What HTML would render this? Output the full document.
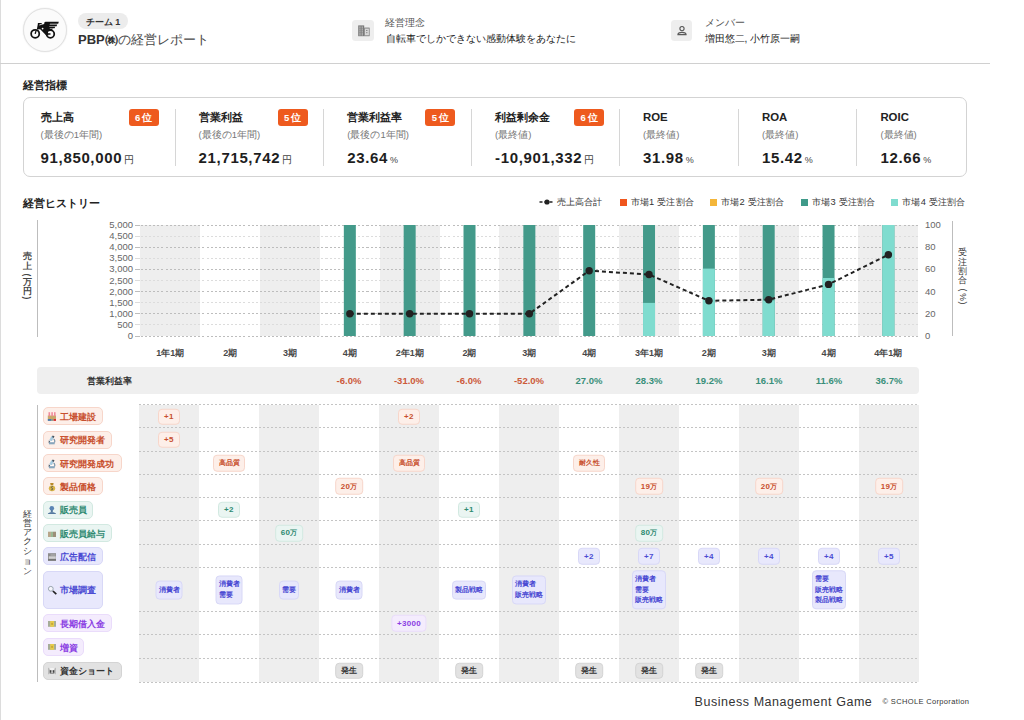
<!DOCTYPE html><html lang="ja"><head><meta charset="utf-8"><title>経営レポート</title><style>
*{margin:0;padding:0;box-sizing:border-box}
html,body{width:1024px;height:720px;overflow:hidden;background:#fff}
body{position:relative;font-family:"Liberation Sans",sans-serif;color:#222}
.ab{position:absolute}
.t{position:absolute;white-space:nowrap;line-height:1}
.vc{transform:translateY(-50%)}
.cx{transform:translate(-50%,-50%)}
.b{font-weight:bold}
.badge{position:absolute;top:109px;width:30px;height:17px;background:#ee5a1e;border-radius:3px;color:#fff;font-weight:bold;font-size:9.5px;line-height:17px;text-align:center}
.div{position:absolute;top:109px;width:1px;height:57px;background:#d6d6d6}
.kt{font-size:11.4px;font-weight:bold;color:#222}
.ks{font-size:9.5px;color:#777}
.kv{font-size:15px;font-weight:bold;color:#1e1e1e;letter-spacing:0.65px}
.ku{font-size:10px;color:#444;font-weight:normal;letter-spacing:0}
.ylab{position:absolute;font-size:9.5px;color:#666;line-height:1;white-space:nowrap}
.xl{position:absolute;font-size:9px;font-weight:bold;color:#484848;line-height:1;white-space:nowrap;transform:translate(-50%,-50%)}
.pr{position:absolute;font-size:9.5px;font-weight:bold;line-height:1;white-space:nowrap;transform:translate(-50%,-50%)}
.hl{position:absolute;height:1px}
.lab{position:absolute;left:43px;height:18px;border-radius:5px;border:1px solid;font-size:9.4px;font-weight:bold;line-height:16px;padding-left:16.3px;padding-top:0.7px;white-space:nowrap}
.ico{position:absolute;left:5px;top:4px;width:8px;height:8px}
.chip{position:absolute;border:1px solid;border-radius:4px;font-size:7.2px;font-weight:bold;line-height:12.5px;text-align:center;white-space:nowrap;transform:translate(-50%,-50%);padding:1.2px 4.5px 0.8px;min-width:22px}
.chip .d{font-size:8px;letter-spacing:0.35px}
.chip.m{font-size:7px;line-height:10.3px;text-align:left;padding:3.5px 2px 3px;min-width:0}
.or{background:#fdefe9;border-color:#f7d6ca;color:#c8502e}
.gr{background:#eaf5f2;border-color:#d2e9e1;color:#2e8a70}
.bl{background:#e8e8fc;border-color:#d8d8f7;color:#4b4bd3}
.pu{background:#f4ecfd;border-color:#eadcfb;color:#8a3de3}
.gy{background:#e2e2e2;border-color:#d4d4d4;color:#333}
</style></head><body>
<div class="ab" style="left:0;top:0;width:1px;height:720px;background:#dcdcdc"></div>
<div class="ab" style="left:23px;top:8px;width:44px;height:44px;border-radius:50%;background:#fbfbfb;border:1px solid #e2e2e2;box-shadow:0 0 1.5px rgba(0,0,0,0.12)"></div>
<svg class="ab" style="left:25px;top:12px" width="40" height="36" viewBox="0 0 40 36">
<circle cx="10.2" cy="21.8" r="4.05" fill="none" stroke="#111" stroke-width="1.75"/>
<circle cx="25.4" cy="22" r="3.85" fill="none" stroke="#111" stroke-width="1.75"/>
<path d="M10.2 21.8 L11 18.9" stroke="#111" stroke-width="1.3"/>
<path d="M22.8 22 H25.5" stroke="#111" stroke-width="1.5"/>
<path d="M12.9 10.9 H16.7 V12.3 H14.6 L14.3 13.6 L19.2 12.1 C19.2 10.6 19.6 9.8 20.6 9.8 H33.8 L33.2 11.75 H25 L24.6 12.6 H32.2 L31.6 14.25 H24.4 L24.2 14.8 H30.2 L29.6 16.3 H24.6 L25 16.75 H28 L26.4 18.3 H23 C22.8 19.5 23.2 21 23.4 23.6 L21 23.2 L15.2 17.3 L11.8 17.6 L12.8 12.3 Z" fill="#111"/>
<circle cx="17.6" cy="16.6" r="0.9" fill="#fbfbfb"/>
</svg>
<div class="ab" style="left:77.6px;top:13.3px;width:50.6px;height:15.3px;border-radius:8px;background:#ececec"></div>
<div class="t b cx" style="left:103px;top:21.5px;font-size:9px;color:#333">チーム 1</div>
<div class="t vc" style="left:78px;top:39px;font-size:13px;color:#4a4a4a"><span class="b" style="color:#333">PBP㈱</span>の経営レポート</div>
<div class="ab" style="left:352.3px;top:19.8px;width:21.6px;height:21.5px;border-radius:3.5px;background:#eeeeee"></div>
<svg class="ab" style="left:357.5px;top:24.5px" width="12" height="12" viewBox="0 0 12 12"><rect x="0.2" y="0.4" width="6" height="10.8" fill="#7a7a7a"/><rect x="6.2" y="2.6" width="5.4" height="8.6" fill="#7a7a7a"/><rect x="6.9" y="3.5" width="4" height="6.9" fill="#d8d8d8"/><g fill="#d6d6d6"><rect x="1.3" y="1.6" width="1.3" height="1"/><rect x="3.6" y="1.6" width="1.3" height="1"/><rect x="1.3" y="3.6" width="1.3" height="1"/><rect x="3.6" y="3.6" width="1.3" height="1"/><rect x="1.3" y="5.6" width="1.3" height="1"/><rect x="3.6" y="5.6" width="1.3" height="1"/><rect x="1.3" y="7.6" width="1.3" height="1"/><rect x="3.6" y="7.6" width="1.3" height="1"/><rect x="1.3" y="9.4" width="1.3" height="1"/><rect x="3.6" y="9.4" width="1.3" height="1"/></g><g fill="#7a7a7a"><rect x="8.2" y="5" width="1.2" height="1"/><rect x="8.2" y="7.2" width="1.2" height="1"/></g></svg>
<div class="t vc" style="left:385px;top:22.6px;font-size:9.5px;color:#555">経営理念</div>
<div class="t vc" style="left:385.5px;top:38.8px;font-size:10px;color:#1a1a1a">自転車でしかできない感動体験をあなたに</div>
<div class="ab" style="left:670.7px;top:19.8px;width:21.6px;height:21.5px;border-radius:3.5px;background:#eeeeee"></div>
<svg class="ab" style="left:675.5px;top:24.5px" width="12" height="12" viewBox="0 0 12 12"><circle cx="6" cy="3.6" r="2.1" fill="none" stroke="#555" stroke-width="1.1"/><path d="M1.9 9.7 C1.9 6.5 10.1 6.5 10.1 9.7 Z" fill="none" stroke="#5a5a5a" stroke-width="1.2" stroke-linejoin="round"/></svg>
<div class="t vc" style="left:704.5px;top:22.6px;font-size:9.5px;color:#555">メンバー</div>
<div class="t vc" style="left:704.5px;top:38.8px;font-size:10px;color:#1a1a1a">増田悠二, 小竹原一嗣</div>
<div class="ab" style="left:0;top:63px;width:990px;height:1.3px;background:#d0d0d0"></div>
<div class="t b vc" style="left:23px;top:84.8px;font-size:11px;color:#222">経営指標</div>
<div class="ab" style="left:22.7px;top:97.1px;width:944.7px;height:80.2px;border:1.4px solid #d3d3d3;border-radius:7px"></div>
<div class="t vc kt" style="left:40.6px;top:118px">売上高</div>
<div class="t vc ks" style="left:40.6px;top:135.2px">(最後の1年間)</div>
<div class="t vc kv" style="left:40.6px;top:157px">91,850,000<span class="ku" style="margin-left:2px;">円</span></div>
<div class="badge" style="left:128.5px">6&thinsp;位</div>
<div class="t vc kt" style="left:198.6px;top:118px">営業利益</div>
<div class="t vc ks" style="left:198.6px;top:135.2px">(最後の1年間)</div>
<div class="t vc kv" style="left:198.6px;top:157px">21,715,742<span class="ku" style="margin-left:2px;">円</span></div>
<div class="badge" style="left:277.5px">5&thinsp;位</div>
<div class="t vc kt" style="left:347.3px;top:118px">営業利益率</div>
<div class="t vc ks" style="left:347.3px;top:135.2px">(最後の1年間)</div>
<div class="t vc kv" style="left:347.3px;top:157px">23.64<span class="ku" style="margin-left:2px;font-size:9px">%</span></div>
<div class="badge" style="left:425.3px">5&thinsp;位</div>
<div class="t vc kt" style="left:495px;top:118px">利益剰余金</div>
<div class="t vc ks" style="left:495px;top:135.2px">(最終値)</div>
<div class="t vc kv" style="left:495px;top:157px">-10,901,332<span class="ku" style="margin-left:2px;">円</span></div>
<div class="badge" style="left:574px">6&thinsp;位</div>
<div class="t vc kt" style="left:643px;top:118px">ROE</div>
<div class="t vc ks" style="left:643px;top:135.2px">(最終値)</div>
<div class="t vc kv" style="left:643px;top:157px">31.98<span class="ku" style="margin-left:2px;font-size:9px">%</span></div>
<div class="t vc kt" style="left:762px;top:118px">ROA</div>
<div class="t vc ks" style="left:762px;top:135.2px">(最終値)</div>
<div class="t vc kv" style="left:762px;top:157px">15.42<span class="ku" style="margin-left:2px;font-size:9px">%</span></div>
<div class="t vc kt" style="left:880.4px;top:118px">ROIC</div>
<div class="t vc ks" style="left:880.4px;top:135.2px">(最終値)</div>
<div class="t vc kv" style="left:880.4px;top:157px">12.66<span class="ku" style="margin-left:2px;font-size:9px">%</span></div>
<div class="div" style="left:175px"></div>
<div class="div" style="left:322.8px"></div>
<div class="div" style="left:470.8px"></div>
<div class="div" style="left:618.8px"></div>
<div class="div" style="left:737.5px"></div>
<div class="div" style="left:855.9px"></div>
<div class="t b vc" style="left:23px;top:202.5px;font-size:11px;color:#222">経営ヒストリー</div>
<svg class="ab" style="left:539px;top:198px" width="16" height="8" viewBox="0 0 16 8"><path d="M0.5 4 H15.5" stroke="#222" stroke-width="1.6" stroke-dasharray="3 2"/><circle cx="8" cy="4" r="2.6" fill="#222"/></svg>
<div class="t vc" style="left:557.3px;top:202.5px;font-size:9.3px;color:#333">売上高合計</div>
<div class="ab" style="left:620.3px;top:198.5px;width:7px;height:7px;background:#f0561d"></div>
<div class="t vc" style="left:630.6px;top:202.5px;font-size:9.3px;color:#333;letter-spacing:0.2px">市場1 受注割合</div>
<div class="ab" style="left:710px;top:198.5px;width:7px;height:7px;background:#f4b63a"></div>
<div class="t vc" style="left:721px;top:202.5px;font-size:9.3px;color:#333;letter-spacing:0.2px">市場2 受注割合</div>
<div class="ab" style="left:800.5px;top:198.5px;width:7px;height:7px;background:#3f9a89"></div>
<div class="t vc" style="left:812px;top:202.5px;font-size:9.3px;color:#333;letter-spacing:0.2px">市場3 受注割合</div>
<div class="ab" style="left:891.3px;top:198.5px;width:7px;height:7px;background:#7fdccf"></div>
<div class="t vc" style="left:902.3px;top:202.5px;font-size:9.3px;color:#333;letter-spacing:0.2px">市場4 受注割合</div>
<div class="ab" style="left:37px;top:220px;width:1px;height:116.5px;background:#bdbdbd"></div>
<div class="t" style="left:21.2px;width:12px;text-align:center;top:252.05px;line-height:8.5px;font-size:8.5px;color:#444;font-weight:bold">売</div>
<div class="t" style="left:21.2px;width:12px;text-align:center;top:261.55px;line-height:8.5px;font-size:8.5px;color:#444;font-weight:bold">上</div>
<div class="t" style="left:27.2px;top:274.9px;font-size:8.5px;color:#444;font-weight:bold;transform:translate(-50%,-50%) rotate(90deg)">(</div>
<div class="t" style="left:21.2px;width:12px;text-align:center;top:278.45px;line-height:8.5px;font-size:8.5px;color:#444;font-weight:bold">万</div>
<div class="t" style="left:21.2px;width:12px;text-align:center;top:287.45px;line-height:8.5px;font-size:8.5px;color:#444;font-weight:bold">円</div>
<div class="t" style="left:27.2px;top:298.3px;font-size:8.5px;color:#444;font-weight:bold;transform:translate(-50%,-50%) rotate(90deg)">)</div>
<div class="ab" style="left:952px;top:220.5px;width:1px;height:115px;background:#bdbdbd"></div>
<div class="t" style="left:956.8px;width:12px;text-align:center;top:247.95px;line-height:8.5px;font-size:8.5px;color:#333;font-weight:normal">受</div>
<div class="t" style="left:956.8px;width:12px;text-align:center;top:257.65px;line-height:8.5px;font-size:8.5px;color:#333;font-weight:normal">注</div>
<div class="t" style="left:956.8px;width:12px;text-align:center;top:266.85px;line-height:8.5px;font-size:8.5px;color:#333;font-weight:normal">割</div>
<div class="t" style="left:956.8px;width:12px;text-align:center;top:275.95px;line-height:8.5px;font-size:8.5px;color:#333;font-weight:normal">合</div>
<div class="t" style="left:962.8px;top:289.7px;font-size:8.5px;color:#333;font-weight:normal;transform:translate(-50%,-50%) rotate(90deg)">(</div>
<div class="t" style="left:962.8px;top:296.7px;font-size:8.5px;color:#333;font-weight:normal;transform:translate(-50%,-50%) rotate(90deg)">%</div>
<div class="t" style="left:962.8px;top:302.7px;font-size:8.5px;color:#333;font-weight:normal;transform:translate(-50%,-50%) rotate(90deg)">)</div>
<div class="ab" style="left:140.40px;top:225.0px;width:59.84px;height:111.0px;background:#eeeeee"></div>
<div class="ab" style="left:260.08px;top:225.0px;width:59.84px;height:111.0px;background:#eeeeee"></div>
<div class="ab" style="left:379.75px;top:225.0px;width:59.84px;height:111.0px;background:#eeeeee"></div>
<div class="ab" style="left:499.43px;top:225.0px;width:59.84px;height:111.0px;background:#eeeeee"></div>
<div class="ab" style="left:619.11px;top:225.0px;width:59.84px;height:111.0px;background:#eeeeee"></div>
<div class="ab" style="left:738.78px;top:225.0px;width:59.84px;height:111.0px;background:#eeeeee"></div>
<div class="ab" style="left:858.46px;top:225.0px;width:59.84px;height:111.0px;background:#eeeeee"></div>
<div class="hl" style="left:135px;top:335.50px;width:5px;background:#bdbdbd"></div>
<div class="hl" style="left:141.40px;top:335.50px;width:776.90px;background:repeating-linear-gradient(90deg,#bdbdbd 0 2px,transparent 2px 4.1px)"></div>
<div class="ylab" style="right:891px;top:336.00px;transform:translateY(-50%)">0</div>
<div class="hl" style="left:135px;top:324.40px;width:5px;background:#dcdcdc"></div>
<div class="hl" style="left:141.40px;top:324.40px;width:776.90px;background:repeating-linear-gradient(90deg,#dcdcdc 0 2px,transparent 2px 4.1px)"></div>
<div class="ylab" style="right:891px;top:324.90px;transform:translateY(-50%)">500</div>
<div class="hl" style="left:135px;top:313.30px;width:5px;background:#bdbdbd"></div>
<div class="hl" style="left:141.40px;top:313.30px;width:776.90px;background:repeating-linear-gradient(90deg,#bdbdbd 0 2px,transparent 2px 4.1px)"></div>
<div class="ylab" style="right:891px;top:313.80px;transform:translateY(-50%)">1,000</div>
<div class="hl" style="left:135px;top:302.20px;width:5px;background:#dcdcdc"></div>
<div class="hl" style="left:141.40px;top:302.20px;width:776.90px;background:repeating-linear-gradient(90deg,#dcdcdc 0 2px,transparent 2px 4.1px)"></div>
<div class="ylab" style="right:891px;top:302.70px;transform:translateY(-50%)">1,500</div>
<div class="hl" style="left:135px;top:291.10px;width:5px;background:#bdbdbd"></div>
<div class="hl" style="left:141.40px;top:291.10px;width:776.90px;background:repeating-linear-gradient(90deg,#bdbdbd 0 2px,transparent 2px 4.1px)"></div>
<div class="ylab" style="right:891px;top:291.60px;transform:translateY(-50%)">2,000</div>
<div class="hl" style="left:135px;top:280.00px;width:5px;background:#dcdcdc"></div>
<div class="hl" style="left:141.40px;top:280.00px;width:776.90px;background:repeating-linear-gradient(90deg,#dcdcdc 0 2px,transparent 2px 4.1px)"></div>
<div class="ylab" style="right:891px;top:280.50px;transform:translateY(-50%)">2,500</div>
<div class="hl" style="left:135px;top:268.90px;width:5px;background:#bdbdbd"></div>
<div class="hl" style="left:141.40px;top:268.90px;width:776.90px;background:repeating-linear-gradient(90deg,#bdbdbd 0 2px,transparent 2px 4.1px)"></div>
<div class="ylab" style="right:891px;top:269.40px;transform:translateY(-50%)">3,000</div>
<div class="hl" style="left:135px;top:257.80px;width:5px;background:#dcdcdc"></div>
<div class="hl" style="left:141.40px;top:257.80px;width:776.90px;background:repeating-linear-gradient(90deg,#dcdcdc 0 2px,transparent 2px 4.1px)"></div>
<div class="ylab" style="right:891px;top:258.30px;transform:translateY(-50%)">3,500</div>
<div class="hl" style="left:135px;top:246.70px;width:5px;background:#bdbdbd"></div>
<div class="hl" style="left:141.40px;top:246.70px;width:776.90px;background:repeating-linear-gradient(90deg,#bdbdbd 0 2px,transparent 2px 4.1px)"></div>
<div class="ylab" style="right:891px;top:247.20px;transform:translateY(-50%)">4,000</div>
<div class="hl" style="left:135px;top:235.60px;width:5px;background:#dcdcdc"></div>
<div class="hl" style="left:141.40px;top:235.60px;width:776.90px;background:repeating-linear-gradient(90deg,#dcdcdc 0 2px,transparent 2px 4.1px)"></div>
<div class="ylab" style="right:891px;top:236.10px;transform:translateY(-50%)">4,500</div>
<div class="hl" style="left:135px;top:224.50px;width:5px;background:#bdbdbd"></div>
<div class="hl" style="left:141.40px;top:224.50px;width:776.90px;background:repeating-linear-gradient(90deg,#bdbdbd 0 2px,transparent 2px 4.1px)"></div>
<div class="ylab" style="right:891px;top:225.00px;transform:translateY(-50%)">5,000</div>
<div class="ylab" style="left:925px;top:336.00px;transform:translateY(-50%)">0</div>
<div class="ylab" style="left:925px;top:313.80px;transform:translateY(-50%)">20</div>
<div class="ylab" style="left:925px;top:291.60px;transform:translateY(-50%)">40</div>
<div class="ylab" style="left:925px;top:269.40px;transform:translateY(-50%)">60</div>
<div class="ylab" style="left:925px;top:247.20px;transform:translateY(-50%)">80</div>
<div class="ylab" style="left:925px;top:225.00px;transform:translateY(-50%)">100</div>
<svg class="ab" style="left:0;top:0" width="1024" height="720" viewBox="0 0 1024 720"><rect x="343.83" y="225.0" width="12" height="111.0" fill="#439a8a"/><rect x="403.67" y="225.0" width="12" height="111.0" fill="#439a8a"/><rect x="463.51" y="225.0" width="12" height="111.0" fill="#439a8a"/><rect x="523.35" y="225.0" width="12" height="111.0" fill="#439a8a"/><rect x="583.19" y="225.0" width="12" height="111.0" fill="#439a8a"/><rect x="643.03" y="225.0" width="12" height="111.0" fill="#439a8a"/><rect x="643.03" y="302.9" width="12" height="33.10" fill="#7fdccf"/><rect x="702.87" y="225.0" width="12" height="111.0" fill="#439a8a"/><rect x="702.87" y="268.6" width="12" height="67.40" fill="#7fdccf"/><rect x="762.70" y="225.0" width="12" height="111.0" fill="#439a8a"/><rect x="762.70" y="300.4" width="12" height="35.60" fill="#7fdccf"/><rect x="822.54" y="225.0" width="12" height="111.0" fill="#439a8a"/><rect x="822.54" y="278.0" width="12" height="58.00" fill="#7fdccf"/><rect x="882.38" y="225.0" width="12" height="111.0" fill="#439a8a"/><rect x="882.38" y="225.0" width="12" height="111.00" fill="#7fdccf"/><polyline points="349.83,313.7 409.67,313.7 469.51,313.7 529.35,313.7 589.19,270.7 649.03,274.5 708.87,300.8 768.70,299.7 828.54,284.4 888.38,254.7" fill="none" stroke="#222" stroke-width="2" stroke-dasharray="4 3"/><circle cx="349.83" cy="313.7" r="3.7" fill="#222"/><circle cx="409.67" cy="313.7" r="3.7" fill="#222"/><circle cx="469.51" cy="313.7" r="3.7" fill="#222"/><circle cx="529.35" cy="313.7" r="3.7" fill="#222"/><circle cx="589.19" cy="270.7" r="3.7" fill="#222"/><circle cx="649.03" cy="274.5" r="3.7" fill="#222"/><circle cx="708.87" cy="300.8" r="3.7" fill="#222"/><circle cx="768.70" cy="299.7" r="3.7" fill="#222"/><circle cx="828.54" cy="284.4" r="3.7" fill="#222"/><circle cx="888.38" cy="254.7" r="3.7" fill="#222"/></svg>
<div class="xl" style="left:170.32px;top:352.5px">1年1期</div>
<div class="xl" style="left:230.16px;top:352.5px">2期</div>
<div class="xl" style="left:290.00px;top:352.5px">3期</div>
<div class="xl" style="left:349.83px;top:352.5px">4期</div>
<div class="xl" style="left:409.67px;top:352.5px">2年1期</div>
<div class="xl" style="left:469.51px;top:352.5px">2期</div>
<div class="xl" style="left:529.35px;top:352.5px">3期</div>
<div class="xl" style="left:589.19px;top:352.5px">4期</div>
<div class="xl" style="left:649.03px;top:352.5px">3年1期</div>
<div class="xl" style="left:708.87px;top:352.5px">2期</div>
<div class="xl" style="left:768.70px;top:352.5px">3期</div>
<div class="xl" style="left:828.54px;top:352.5px">4期</div>
<div class="xl" style="left:888.38px;top:352.5px">4年1期</div>
<div class="ab" style="left:36.5px;top:367px;width:882px;height:26.5px;background:#efefef;border-radius:4px"></div>
<div class="t b cx" style="left:109px;top:380.5px;font-size:9px;color:#333">営業利益率</div>
<div class="pr" style="left:349.00px;top:381px;color:#cc5a3a">-6.0%</div>
<div class="pr" style="left:409.00px;top:381px;color:#cc5a3a">-31.0%</div>
<div class="pr" style="left:469.00px;top:381px;color:#cc5a3a">-6.0%</div>
<div class="pr" style="left:529.00px;top:381px;color:#cc5a3a">-52.0%</div>
<div class="pr" style="left:589.00px;top:381px;color:#3a8f7a">27.0%</div>
<div class="pr" style="left:649.00px;top:381px;color:#3a8f7a">28.3%</div>
<div class="pr" style="left:709.00px;top:381px;color:#3a8f7a">19.2%</div>
<div class="pr" style="left:769.00px;top:381px;color:#3a8f7a">16.1%</div>
<div class="pr" style="left:829.00px;top:381px;color:#3a8f7a">11.6%</div>
<div class="pr" style="left:889.00px;top:381px;color:#3a8f7a">36.7%</div>
<div class="ab" style="left:37px;top:404.5px;width:1px;height:277.5px;background:#bdbdbd"></div>
<div class="t" style="left:21.6px;width:12px;text-align:center;top:510.05px;line-height:8.5px;font-size:8.5px;color:#333;font-weight:normal">経</div>
<div class="t" style="left:21.6px;width:12px;text-align:center;top:518.95px;line-height:8.5px;font-size:8.5px;color:#333;font-weight:normal">営</div>
<div class="t" style="left:21.6px;width:12px;text-align:center;top:528.15px;line-height:8.5px;font-size:8.5px;color:#333;font-weight:normal">ア</div>
<div class="t" style="left:21.6px;width:12px;text-align:center;top:537.05px;line-height:8.5px;font-size:8.5px;color:#333;font-weight:normal">ク</div>
<div class="t" style="left:21.6px;width:12px;text-align:center;top:546.75px;line-height:8.5px;font-size:8.5px;color:#333;font-weight:normal">シ</div>
<div class="t" style="left:21.6px;width:12px;text-align:center;top:556.75px;line-height:8.5px;font-size:8.5px;color:#333;font-weight:normal">ョ</div>
<div class="t" style="left:21.6px;width:12px;text-align:center;top:567.35px;line-height:8.5px;font-size:8.5px;color:#333;font-weight:normal">ン</div>
<div class="ab" style="left:139.0px;top:404.5px;width:60.0px;height:277.5px;background:#eeeeee"></div>
<div class="ab" style="left:259.0px;top:404.5px;width:60.0px;height:277.5px;background:#eeeeee"></div>
<div class="ab" style="left:379.0px;top:404.5px;width:60.0px;height:277.5px;background:#eeeeee"></div>
<div class="ab" style="left:499.0px;top:404.5px;width:60.0px;height:277.5px;background:#eeeeee"></div>
<div class="ab" style="left:619.0px;top:404.5px;width:60.0px;height:277.5px;background:#eeeeee"></div>
<div class="ab" style="left:739.0px;top:404.5px;width:60.0px;height:277.5px;background:#eeeeee"></div>
<div class="ab" style="left:859.0px;top:404.5px;width:60.0px;height:277.5px;background:#eeeeee"></div>
<div class="hl" style="left:139.0px;top:403.9px;width:780px;background:repeating-linear-gradient(90deg,#c4c4c4 0 2px,transparent 2px 4px)"></div>
<div class="hl" style="left:139.0px;top:427.2px;width:780px;background:repeating-linear-gradient(90deg,#c4c4c4 0 2px,transparent 2px 4px)"></div>
<div class="hl" style="left:139.0px;top:450.5px;width:780px;background:repeating-linear-gradient(90deg,#c4c4c4 0 2px,transparent 2px 4px)"></div>
<div class="hl" style="left:139.0px;top:473.8px;width:780px;background:repeating-linear-gradient(90deg,#c4c4c4 0 2px,transparent 2px 4px)"></div>
<div class="hl" style="left:139.0px;top:497.1px;width:780px;background:repeating-linear-gradient(90deg,#c4c4c4 0 2px,transparent 2px 4px)"></div>
<div class="hl" style="left:139.0px;top:520.4px;width:780px;background:repeating-linear-gradient(90deg,#c4c4c4 0 2px,transparent 2px 4px)"></div>
<div class="hl" style="left:139.0px;top:543.7px;width:780px;background:repeating-linear-gradient(90deg,#c4c4c4 0 2px,transparent 2px 4px)"></div>
<div class="hl" style="left:139.0px;top:567.0px;width:780px;background:repeating-linear-gradient(90deg,#c4c4c4 0 2px,transparent 2px 4px)"></div>
<div class="hl" style="left:139.0px;top:610.8px;width:780px;background:repeating-linear-gradient(90deg,#c4c4c4 0 2px,transparent 2px 4px)"></div>
<div class="hl" style="left:139.0px;top:634.1px;width:780px;background:repeating-linear-gradient(90deg,#c4c4c4 0 2px,transparent 2px 4px)"></div>
<div class="hl" style="left:139.0px;top:657.8px;width:780px;background:repeating-linear-gradient(90deg,#c4c4c4 0 2px,transparent 2px 4px)"></div>
<div class="hl" style="left:139.0px;top:681.7px;width:780px;background:repeating-linear-gradient(90deg,#c4c4c4 0 2px,transparent 2px 4px)"></div>
<div class="lab or" style="top:407.45px;width:60px;height:18px;line-height:16px">工場建設</div>
<svg class="ab" style="left:44px;top:408px" width="16" height="16" viewBox="0 0 16 16"><rect x="3.8" y="7.5" width="8.2" height="3.8" fill="#c9a86a"/><rect x="4.5" y="4.2" width="1.6" height="4" fill="#f08a9a"/><rect x="7.3" y="4.2" width="1.6" height="4" fill="#f08a9a"/><rect x="10" y="4.2" width="1.6" height="4" fill="#f08a9a"/><rect x="3.8" y="11" width="3.2" height="1.9" fill="#4a78a8"/><rect x="7" y="11" width="2.5" height="1.9" fill="#8a9a8a"/><rect x="9.5" y="11" width="2.5" height="1.9" fill="#d82a2a"/></svg>
<div class="lab or" style="top:430.75px;width:69px;height:18px;line-height:16px">研究開発者</div>
<svg class="ab" style="left:44px;top:431.3px" width="16" height="16" viewBox="0 0 16 16"><path d="M7.6 4.9 L10.2 5.9 L7.7 10.2 L5.2 9.3Z" fill="#a6cbe0"/><path d="M8.7 4.5 L10.5 5.3 L9.6 6.9 L8 6.1Z" fill="#48525c"/><path d="M4.7 9.6 L6.3 10.3 L5.8 12 L4.7 12Z" fill="#5a6570"/><path d="M9.6 8.1 C11.2 9 11.1 11 10.2 11.5" fill="none" stroke="#6f8ea5" stroke-width="1.1"/><rect x="6.3" y="10.1" width="3.2" height="0.9" fill="#fff"/><rect x="4.9" y="11.2" width="5.8" height="2.1" fill="#87a6bd"/></svg>
<div class="lab or" style="top:454.05px;width:78.5px;height:18px;line-height:16px">研究開発成功</div>
<svg class="ab" style="left:44px;top:454.6px" width="16" height="16" viewBox="0 0 16 16"><path d="M7.6 4.9 L10.2 5.9 L7.7 10.2 L5.2 9.3Z" fill="#a6cbe0"/><path d="M8.7 4.5 L10.5 5.3 L9.6 6.9 L8 6.1Z" fill="#48525c"/><path d="M4.7 9.6 L6.3 10.3 L5.8 12 L4.7 12Z" fill="#5a6570"/><path d="M9.6 8.1 C11.2 9 11.1 11 10.2 11.5" fill="none" stroke="#6f8ea5" stroke-width="1.1"/><rect x="6.3" y="10.1" width="3.2" height="0.9" fill="#fff"/><rect x="4.9" y="11.2" width="5.8" height="2.1" fill="#87a6bd"/></svg>
<div class="lab or" style="top:477.35px;width:60px;height:18px;line-height:16px">製品価格</div>
<svg class="ab" style="left:44px;top:478px" width="16" height="16" viewBox="0 0 16 16"><path d="M6.2 4.9 H9.6 L9.2 7.2 H6.6Z" fill="#b8892a"/><ellipse cx="8" cy="10.3" rx="3.2" ry="2.9" fill="#d8b446"/><path d="M8.8 8.6 C7 8.2 6.8 9.9 8 10.2 C9.2 10.5 9 12.2 7.2 11.8" fill="none" stroke="#555" stroke-width="0.9"/></svg>
<div class="lab gr" style="top:500.65px;width:50px;height:18px;line-height:16px">販売員</div>
<svg class="ab" style="left:44px;top:501.3px" width="16" height="16" viewBox="0 0 16 16"><circle cx="7.8" cy="7.3" r="2.3" fill="#5a84b4"/><path d="M3.8 13 C4 10.6 11.8 10.6 12.1 13 Z" fill="#55799f"/><rect x="6.8" y="9" width="2" height="2.5" fill="#55799f"/></svg>
<div class="lab gr" style="top:523.95px;width:69px;height:18px;line-height:16px">販売員給与</div>
<svg class="ab" style="left:44px;top:524.6px" width="16" height="16" viewBox="0 0 16 16"><rect x="4" y="6.7" width="2.9" height="5.3" fill="#b8a68a"/><rect x="6.9" y="6.7" width="2.1" height="5.3" fill="#9ab894"/><rect x="9" y="6.7" width="3" height="5.3" fill="#9c907a"/></svg>
<div class="lab bl" style="top:547.25px;width:60px;height:18px;line-height:16px">広告配信</div>
<svg class="ab" style="left:44px;top:548px" width="16" height="16" viewBox="0 0 16 16"><rect x="4" y="5.2" width="8" height="7.5" fill="#8c8c8c"/><rect x="6.5" y="6.2" width="5" height="1.6" fill="#aaa"/><rect x="4.8" y="8.3" width="7" height="2.5" fill="#d2d2d2"/><rect x="4" y="11" width="8" height="1.7" fill="#777"/></svg>
<div class="lab bl" style="top:570.80px;width:60px;height:38px;line-height:36px">市場調査</div>
<svg class="ab" style="left:44px;top:581px" width="16" height="16" viewBox="0 0 16 16"><circle cx="6.8" cy="7.8" r="2.4" fill="#f6f6fb" stroke="#9aa6b0" stroke-width="1"/><path d="M8.9 10 L12.3 13.2" stroke="#222" stroke-width="1.7"/></svg>
<div class="lab pu" style="top:614.35px;width:69px;height:18px;line-height:16px">長期借入金</div>
<svg class="ab" style="left:44px;top:615px" width="16" height="16" viewBox="0 0 16 16"><rect x="4" y="6" width="8" height="5.8" fill="#a6ad98"/><rect x="6.2" y="6" width="3.8" height="5.8" fill="#e6cc4e"/><circle cx="8.1" cy="8.9" r="1.1" fill="#c8a838"/></svg>
<div class="lab pu" style="top:637.85px;width:40.5px;height:18px;line-height:16px">増資</div>
<svg class="ab" style="left:44px;top:638.3px" width="16" height="16" viewBox="0 0 16 16"><rect x="4" y="6" width="8" height="5.8" fill="#a6ad98"/><rect x="6.2" y="6" width="3.8" height="5.8" fill="#e6cc4e"/><circle cx="8.1" cy="8.9" r="1.1" fill="#c8a838"/></svg>
<div class="lab gy" style="top:661.65px;width:78.5px;height:18px;line-height:16px">資金ショート</div>
<svg class="ab" style="left:44px;top:662px" width="16" height="16" viewBox="0 0 16 16"><path d="M4 5.5 L6 7 L6 11.5 L4 12.5Z M12 5.5 L10 7 L10 11.5 L12 12.5Z" fill="#bbb"/><ellipse cx="8" cy="7" rx="2.6" ry="1" fill="#f4f4f4"/><rect x="5.8" y="8.2" width="1.6" height="2.6" fill="#444"/><rect x="8.7" y="8.2" width="1.6" height="2.6" fill="#444"/><rect x="6" y="11" width="4" height="1" fill="#999"/></svg>
<div class="chip or" style="left:169.0px;top:416.55px;"><span class="d">+1</span></div>
<div class="chip or" style="left:409.0px;top:416.55px;"><span class="d">+2</span></div>
<div class="chip or" style="left:169.0px;top:439.85px;"><span class="d">+5</span></div>
<div class="chip or" style="left:229.0px;top:463.15px;">高品質</div>
<div class="chip or" style="left:409.0px;top:463.15px;">高品質</div>
<div class="chip or" style="left:589.0px;top:463.15px;">耐久性</div>
<div class="chip or" style="left:349.0px;top:486.45px;"><span class="d">20</span>万</div>
<div class="chip or" style="left:649.0px;top:486.45px;"><span class="d">19</span>万</div>
<div class="chip or" style="left:769.0px;top:486.45px;"><span class="d">20</span>万</div>
<div class="chip or" style="left:889.0px;top:486.45px;"><span class="d">19</span>万</div>
<div class="chip gr" style="left:229.0px;top:509.75px;"><span class="d">+2</span></div>
<div class="chip gr" style="left:469.0px;top:509.75px;"><span class="d">+1</span></div>
<div class="chip gr" style="left:289.0px;top:533.05px;"><span class="d">60</span>万</div>
<div class="chip gr" style="left:649.0px;top:533.05px;"><span class="d">80</span>万</div>
<div class="chip bl" style="left:589.0px;top:556.35px;"><span class="d">+2</span></div>
<div class="chip bl" style="left:649.0px;top:556.35px;"><span class="d">+7</span></div>
<div class="chip bl" style="left:709.0px;top:556.35px;"><span class="d">+4</span></div>
<div class="chip bl" style="left:769.0px;top:556.35px;"><span class="d">+4</span></div>
<div class="chip bl" style="left:829.0px;top:556.35px;"><span class="d">+4</span></div>
<div class="chip bl" style="left:889.0px;top:556.35px;"><span class="d">+5</span></div>
<div class="chip bl m" style="left:169.0px;top:589.90px;">消費者</div>
<div class="chip bl m" style="left:229.0px;top:589.90px;">消費者<br>需要</div>
<div class="chip bl m" style="left:289.0px;top:589.90px;">需要</div>
<div class="chip bl m" style="left:349.0px;top:589.90px;">消費者</div>
<div class="chip bl m" style="left:469.0px;top:589.90px;">製品戦略</div>
<div class="chip bl m" style="left:529.0px;top:589.90px;">消費者<br>販売戦略</div>
<div class="chip bl m" style="left:649.0px;top:589.90px;">消費者<br>需要<br>販売戦略</div>
<div class="chip bl m" style="left:829.0px;top:589.90px;">需要<br>販売戦略<br>製品戦略</div>
<div class="chip pu" style="left:409.0px;top:623.45px;"><span class="d">+3000</span></div>
<div class="chip gy" style="left:349.0px;top:670.75px;font-size:7.8px;padding-left:4.8px;padding-right:4.8px;">発生</div>
<div class="chip gy" style="left:469.0px;top:670.75px;font-size:7.8px;padding-left:4.8px;padding-right:4.8px;">発生</div>
<div class="chip gy" style="left:589.0px;top:670.75px;font-size:7.8px;padding-left:4.8px;padding-right:4.8px;">発生</div>
<div class="chip gy" style="left:649.0px;top:670.75px;font-size:7.8px;padding-left:4.8px;padding-right:4.8px;">発生</div>
<div class="chip gy" style="left:709.0px;top:670.75px;font-size:7.8px;padding-left:4.8px;padding-right:4.8px;">発生</div>
<div class="t vc" style="left:694.5px;top:701.5px;font-size:12.5px;color:#333;letter-spacing:0.55px">Business Management Game</div>
<div class="t vc" style="left:882.5px;top:702px;font-size:7.5px;color:#333;letter-spacing:0.35px">© SCHOLE Corporation</div>
</body></html>
